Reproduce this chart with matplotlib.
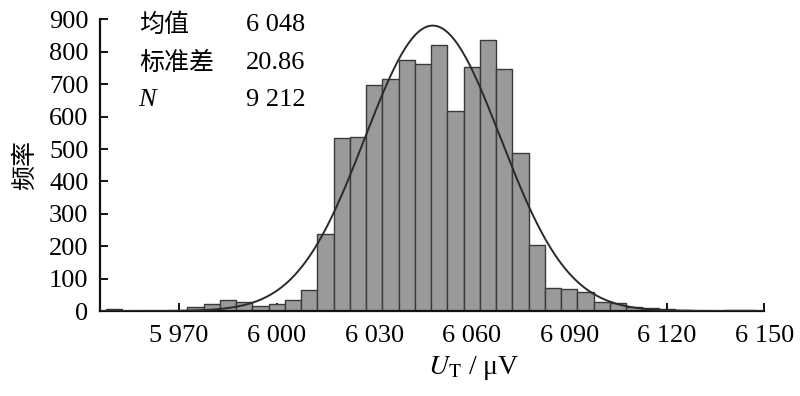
import numpy as np
import matplotlib
matplotlib.use("Agg")
import matplotlib.pyplot as plt

# ---- data ----
bin_centers = [5950, 5955, 5960, 5965, 5970, 5975, 5980, 5985, 5990, 5995,
               6000, 6005, 6010, 6015, 6020, 6025, 6030, 6035, 6040, 6045,
               6050, 6055, 6060, 6065, 6070, 6075, 6080, 6085, 6090, 6095,
               6100, 6105, 6110, 6115, 6120, 6125, 6130, 6135, 6140, 6145]
counts = [5, 0, 0, 0, 0, 13, 21, 34, 29, 15,
          22, 34, 65, 239, 534, 538, 698, 717, 775, 762,
          820, 618, 752, 836, 748, 488, 203, 72, 67, 58,
          29, 26, 13, 8, 5, 3, 0, 0, 3, 3]
bin_width = 5
mean_val = 6048
std_val = 20.86
n_val = 9212
x_ticks = [5970, 6000, 6030, 6060, 6090, 6120, 6150]
x_ticklabels = ["5 970", "6 000", "6 030", "6 060", "6 090", "6 120", "6 150"]
y_ticks = [0, 100, 200, 300, 400, 500, 600, 700, 800, 900]
stats_labels = ["均值", "标准差", "N"]
stats_values = ["6 048", "20.86", "9 212"]

plt.rcParams['mathtext.fontset'] = 'stix'
serif = ['Liberation Serif', 'DejaVu Serif']
cjk = ['Noto Sans CJK SC', 'DejaVu Sans']

fig = plt.figure(figsize=(8, 3.96), dpi=100)
ax = fig.add_axes([0.1244, 0.2146, 0.831, 0.7364])

ax.bar(bin_centers, counts, width=bin_width, color='#9a9a9a',
       edgecolor='#3a3a3a', linewidth=1.0, zorder=2)

xs = np.linspace(5945.5, 6150, 600)
ys = n_val * bin_width / (std_val * np.sqrt(2 * np.pi)) * np.exp(-0.5 * ((xs - mean_val) / std_val) ** 2)
ax.plot(xs, ys, color='#2a2a2a', linewidth=1.4, zorder=3)

ax.set_xlim(5945.5, 6150)
ax.set_ylim(0, 900)
for s in ['top', 'right']:
    ax.spines[s].set_visible(False)
for s in ['left', 'bottom']:
    ax.spines[s].set_linewidth(1.6)
    ax.spines[s].set_color('#111111')

ax.set_xticks(x_ticks)
ax.set_xticklabels(x_ticklabels, fontfamily=serif, fontsize=19)
ax.set_yticks(y_ticks)
ax.set_yticklabels([str(v) for v in y_ticks], fontfamily=serif, fontsize=19)
ax.tick_params(direction='in', length=6, width=1.4, color='#111111')
ax.tick_params(axis='x', pad=10)
ax.tick_params(axis='y', pad=8)

ax.set_ylabel("频率", fontfamily=cjk, fontsize=18, labelpad=8)
ax.set_xlabel(r"$U_{\mathrm{T}}$ / μV", fontfamily=serif, fontsize=20)
ax.xaxis.set_label_coords(0.563, -0.196)
ax.xaxis.label.set_va('center')

# stats text block
ys_txt = [0.982, 0.852, 0.722]
for lab, val, yy in zip(stats_labels, stats_values, ys_txt):
    if lab == "N":
        ax.text(0.058, yy, lab, transform=ax.transAxes, fontfamily=serif,
                fontstyle='italic', fontsize=19, va='center', ha='left')
    else:
        ax.text(0.060, yy, lab, transform=ax.transAxes, fontfamily=cjk,
                fontsize=18, va='center', ha='left')
    ax.text(0.31, yy, val, transform=ax.transAxes, fontfamily=serif,
            fontsize=19, va='center', ha='right')

fig.savefig("out.png", dpi=100)
